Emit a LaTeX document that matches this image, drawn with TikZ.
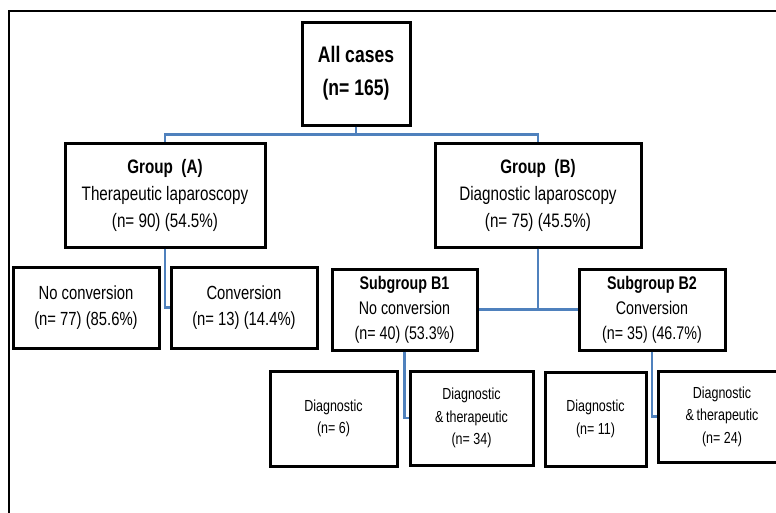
\documentclass[tikz,border=0pt]{standalone}
\usepackage{fontspec}
\setmainfont{Liberation Sans}[FakeStretch=0.78]
\definecolor{linkblue}{RGB}{79,129,189}
\begin{document}
\begin{tikzpicture}[x=1pt,y=-1pt,
  box/.style={draw,line width=3pt,inner sep=0pt,align=center},
  link/.style={draw=linkblue,line width=2.6pt},
  topfont/.style={font=\fontsize{22.5}{33}\selectfont\bfseries},
  grpfont/.style={font=\fontsize{19.5}{27}\selectfont},
  lowfont/.style={font=\fontsize{19}{26}\selectfont},
  subfont/.style={font=\fontsize{18.3}{25}\selectfont},
  leaffont/.style={font=\fontsize{16}{22.5}\selectfont}]
  \useasboundingbox (0,0) rectangle (776,512);
  \draw[line width=2.8pt] (9,520) -- (9,11) -- (784,11);

  % top and groups
  \node[box,topfont,minimum width=108,minimum height=103] (all) at (356,73.5)
    {All cases\\(n= 165)};
  \node[box,grpfont,minimum width=200,minimum height=104] (grpA) at (165,195)
    {\textbf{Group~ (A)}\\Therapeutic laparoscopy\\(n= 90) (54.5\%)};
  \node[box,grpfont,minimum width=206,minimum height=104] (grpB) at (538,195)
    {\textbf{Group~ (B)}\\Diagnostic laparoscopy\\(n= 75) (45.5\%)};

  % second row
  \node[box,lowfont,minimum width=146,minimum height=81] (noconv) at (86,307.5)
    {No conversion\\(n= 77) (85.6\%)};
  \node[box,lowfont,minimum width=146,minimum height=81] (conv) at (244,307.5)
    {Conversion\\(n= 13) (14.4\%)};
  \node[box,subfont,minimum width=145,minimum height=81] (subB1) at (404.5,309.5)
    {\textbf{Subgroup B1}\\No conversion\\(n= 40) (53.3\%)};
  \node[box,subfont,minimum width=146,minimum height=81] (subB2) at (652,309.5)
    {\textbf{Subgroup B2}\\Conversion\\(n= 35) (46.7\%)};

  % third row
  \node[box,leaffont,minimum width=127,minimum height=95] (diagB1) at (333.5,418.5)
    {Diagnostic\\(n= 6)};
  \node[box,leaffont,minimum width=123,minimum height=94] (dtB1) at (471.5,418)
    {Diagnostic\\\&\,therapeutic\\(n= 34)};
  \node[box,leaffont,minimum width=101,minimum height=94] (diagB2) at (595.5,419)
    {Diagnostic\\(n= 11)};
  \node[box,leaffont,minimum width=128,minimum height=91] (dtB2) at (722,416.5)
    {Diagnostic\\\&\,therapeutic\\(n= 24)};

  % connectors
  \draw[link] (all.south) -- ++(0,8) -| (grpA.north);
  \draw[link] (all.south) -- ++(0,8) -| (grpB.north);
  \draw[link] (grpA.south) |- (conv.west);
  \draw[link] (grpB.south) |- (subB1.east);
  \draw[link] (grpB.south) |- (subB2.west);
  \draw[link] (subB1.south) |- (dtB1.west);
  \draw[link] (subB2.south) |- (dtB2.west);
\end{tikzpicture}
\end{document}
